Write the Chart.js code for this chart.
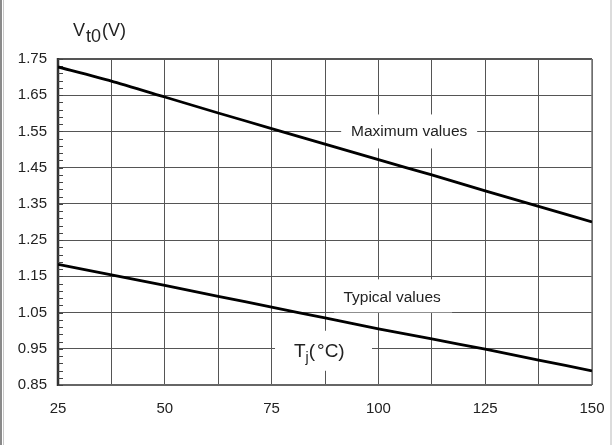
<!DOCTYPE html>
<html><head><meta charset="utf-8">
<script src="https://cdn.jsdelivr.net/npm/chart.js@4/dist/chart.umd.min.js"></script>
<style>html,body{margin:0;padding:0;background:#fff;}#wrap{width:612px;height:445px;position:relative;}</style>
</head><body><div id="wrap"><canvas id="c" width="612" height="445"></canvas></div>
<script>
const temps = [25, 37.5, 50, 62.5, 75, 87.5, 100, 112.5, 125, 137.5, 150];
const maxValues = [1.728, 1.689, 1.645, 1.601, 1.558, 1.515, 1.472, 1.430, 1.386, 1.343, 1.300];
const typValues = [1.183, 1.154, 1.125, 1.095, 1.065, 1.035, 1.005, 0.977, 0.949, 0.919, 0.889];
const xTickLabels = [25, 50, 75, 100, 125, 150];
const yTickLabels = ['0.85','0.95','1.05','1.15','1.25','1.35','1.45','1.55','1.65','1.75'];
const notes = [
  {text: 'Maximum values', x: 107.2, y: 1.55, size: 15.5, bg: [-68, -17, 136, 34]},
  {text: 'Typical values', x: 103.2, y: 1.092, size: 15.5, bg: [-58, -18, 118, 33]},
];
const minorStep = 0.02;
const FONT = '"Liberation Sans", Arial, sans-serif';

const decor = {
  id: 'decor',
  beforeDatasetsDraw(chart) {
    const {ctx, chartArea: a, scales: {x, y}} = chart;
    ctx.save();
    ctx.fillStyle = '#fff';
    notes.forEach(n => {
      const px = x.getPixelForValue(n.x), py = y.getPixelForValue(n.y);
      ctx.fillRect(px + n.bg[0], py + n.bg[1], n.bg[2], n.bg[3]);
    });
    const tx = x.getPixelForValue(86.8), ty = y.getPixelForValue(0.95);
    ctx.fillRect(tx - 47, ty - 18, 97, 40);
    ctx.strokeStyle = '#555'; ctx.lineWidth = 2;
    ctx.beginPath(); ctx.moveTo(a.left, a.top); ctx.lineTo(a.right, a.top); ctx.stroke();
    ctx.strokeStyle = '#777'; ctx.lineWidth = 1.5;
    ctx.beginPath(); ctx.moveTo(a.right, a.top); ctx.lineTo(a.right, a.bottom); ctx.stroke();
    ctx.strokeStyle = '#666'; ctx.lineWidth = 2;
    ctx.beginPath(); ctx.moveTo(a.left, a.bottom); ctx.lineTo(a.right, a.bottom); ctx.stroke();
    ctx.strokeStyle = '#333'; ctx.lineWidth = 2.5;
    ctx.beginPath(); ctx.moveTo(a.left, a.top - 1); ctx.lineTo(a.left, a.bottom + 1); ctx.stroke();
    ctx.strokeStyle = '#444'; ctx.lineWidth = 1;
    for (let v = y.min; v <= y.max + 1e-9; v += minorStep) {
      const py = Math.round(y.getPixelForValue(v)) + 0.5;
      ctx.beginPath(); ctx.moveTo(a.left, py); ctx.lineTo(a.left + 5, py); ctx.stroke();
    }
    ctx.restore();
  },
  afterDatasetsDraw(chart) {
    const {ctx, chartArea: a, scales: {x, y}} = chart;
    ctx.save();
    ctx.fillStyle = '#222';
    ctx.textBaseline = 'middle';
    ctx.textAlign = 'center';
    notes.forEach(n => {
      ctx.font = n.size + 'px ' + FONT;
      ctx.fillText(n.text, x.getPixelForValue(n.x), y.getPixelForValue(n.y));
    });
    ctx.textAlign = 'left';
    let px = x.getPixelForValue(86.8) - 28, py = y.getPixelForValue(0.95) + 3;
    ctx.font = '19px ' + FONT;
    ctx.fillText('T', px, py); px += ctx.measureText('T').width;
    ctx.font = '14px ' + FONT;
    ctx.fillText('j', px, py + 6); px += ctx.measureText('j').width;
    ctx.font = '19px ' + FONT;
    ctx.fillText('(', px, py); px += ctx.measureText('(').width + 2;
    ctx.fillText('°C)', px, py);
    px = a.left + 15; py = a.top - 28;
    ctx.font = '18px ' + FONT;
    ctx.fillText('V', px, py); px += ctx.measureText('V').width + 1;
    ctx.fillText('t0', px, py + 6); px += ctx.measureText('t0').width + 1;
    ctx.fillText('(V)', px, py);
    ctx.restore();
    ctx.save();
    ctx.fillStyle = '#8a8a8a'; ctx.fillRect(0, 0, 2, 445);
    ctx.fillStyle = '#c8c8c8'; ctx.fillRect(3, 0, 1, 445);
    ctx.fillStyle = '#dcdcdc'; ctx.fillRect(610, 0, 2, 445);
    ctx.restore();
  }
};

new Chart(document.getElementById('c'), {
  type: 'line',
  data: {
    labels: temps,
    datasets: [
      {data: temps.map((t, i) => ({x: t, y: maxValues[i]})), borderColor: '#000', borderWidth: 2.8, pointRadius: 0, tension: 0.2, fill: false},
      {data: temps.map((t, i) => ({x: t, y: typValues[i]})), borderColor: '#000', borderWidth: 2.8, pointRadius: 0, tension: 0.2, fill: false}
    ]
  },
  options: {
    responsive: false,
    animation: false,
    devicePixelRatio: 1,
    layout: {padding: {left: 0, top: 59, right: 20, bottom: 0}},
    plugins: {legend: {display: false}, tooltip: {enabled: false}},
    scales: {
      x: {
        type: 'linear', min: 25, max: 150,
        afterFit(s) { s.height = 60; s.paddingLeft = 0; s.paddingRight = 0; },
        afterBuildTicks(s) { s.ticks = temps.map(v => ({value: v})); },
        grid: {color: '#555', lineWidth: 1, drawTicks: false},
        border: {display: false},
        ticks: {
          padding: 15, color: '#222', maxRotation: 0, autoSkip: false,
          font: {family: FONT, size: 15},
          callback: v => xTickLabels.includes(v) ? String(v) : ''
        }
      },
      y: {
        type: 'linear', min: 0.85, max: 1.75,
        afterFit(s) { s.width = 58; s.paddingTop = 0; s.paddingBottom = 0; },
        afterBuildTicks(s) { s.ticks = yTickLabels.map(v => ({value: parseFloat(v)})); },
        grid: {color: '#555', lineWidth: 1, drawTicks: false},
        border: {display: false},
        ticks: {
          padding: 11, color: '#222',
          font: {family: FONT, size: 15},
          callback: (v, i) => yTickLabels[i]
        }
      }
    }
  },
  plugins: [decor]
});
</script></body></html>
